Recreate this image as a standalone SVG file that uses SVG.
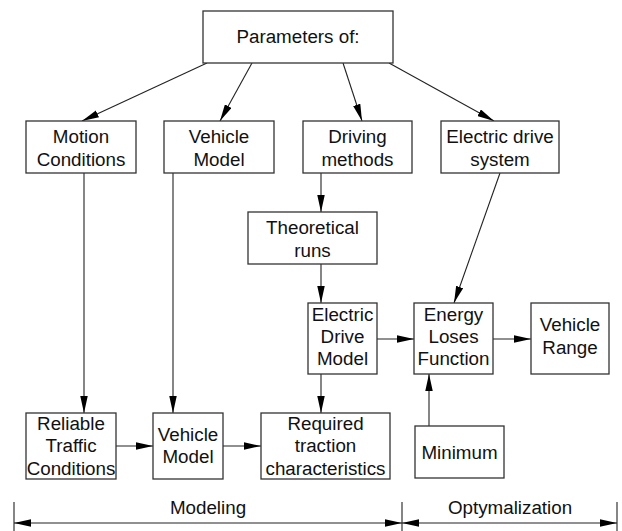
<svg xmlns="http://www.w3.org/2000/svg" width="622" height="531" viewBox="0 0 622 531">
<style>
.box{fill:#fff;stroke:#333;stroke-width:1.3}
.t{font-family:"Liberation Sans",Arial,sans-serif;font-size:18.8px;fill:#111;text-anchor:middle}
.c{fill:none;stroke:#222;stroke-width:1.1}
</style>
<defs>
<marker id="ah" markerUnits="userSpaceOnUse" markerWidth="18" markerHeight="8" refX="17" refY="3.75" orient="auto-start-reverse" viewBox="0 0 18 7.5">
<path d="M0,0 L17,3.75 L0,7.5 z" fill="#000"/>
</marker>
</defs>
<rect width="622" height="531" fill="#fff"/>
<g id="connectors">
<line class="c" x1="207" y1="63" x2="82" y2="121" marker-end="url(#ah)"/>
<line class="c" x1="252" y1="63" x2="220" y2="121" marker-end="url(#ah)"/>
<line class="c" x1="343" y1="63" x2="362" y2="121" marker-end="url(#ah)"/>
<line class="c" x1="389" y1="63" x2="494" y2="121" marker-end="url(#ah)"/>
<line class="c" x1="84" y1="173" x2="84" y2="413" marker-end="url(#ah)"/>
<line class="c" x1="173" y1="173" x2="173" y2="413" marker-end="url(#ah)"/>
<line class="c" x1="321" y1="173" x2="321" y2="212" marker-end="url(#ah)"/>
<line class="c" x1="321" y1="264" x2="321" y2="303" marker-end="url(#ah)"/>
<line class="c" x1="500" y1="173" x2="454" y2="303" marker-end="url(#ah)"/>
<line class="c" x1="377" y1="339" x2="414" y2="339" marker-end="url(#ah)"/>
<line class="c" x1="493" y1="339" x2="531" y2="339" marker-end="url(#ah)"/>
<line class="c" x1="429" y1="426" x2="429" y2="374" marker-end="url(#ah)"/>
<line class="c" x1="321" y1="374" x2="321" y2="413" marker-end="url(#ah)"/>
<line class="c" x1="116" y1="446" x2="153" y2="446" marker-end="url(#ah)"/>
<line class="c" x1="223" y1="446" x2="261" y2="446" marker-end="url(#ah)"/>
<line class="c" x1="14" y1="502" x2="14" y2="531"/>
<line class="c" x1="402" y1="502" x2="402" y2="531"/>
<line class="c" x1="617" y1="502" x2="617" y2="531"/>
<line class="c" x1="14" y1="523" x2="402" y2="523" marker-start="url(#ah)" marker-end="url(#ah)"/>
<line class="c" x1="402" y1="523" x2="617" y2="523" marker-start="url(#ah)" marker-end="url(#ah)"/>
</g>
<g id="params"><rect class="box" x="203" y="11" width="190" height="52"/><text class="t" x="298" y="43">Parameters of:</text></g>
<g id="motion"><rect class="box" x="26" y="121" width="110" height="52"/><text class="t" x="81" y="143">Motion</text><text class="t" x="81" y="166">Conditions</text></g>
<g id="vehicle-top"><rect class="box" x="164" y="121" width="110" height="52"/><text class="t" x="219" y="143">Vehicle</text><text class="t" x="219" y="166">Model</text></g>
<g id="driving"><rect class="box" x="303" y="121" width="109" height="52"/><text class="t" x="357.5" y="143">Driving</text><text class="t" x="357.5" y="166">methods</text></g>
<g id="eds"><rect class="box" x="441" y="121" width="118" height="52"/><text class="t" x="500" y="143">Electric drive</text><text class="t" x="500" y="166">system</text></g>
<g id="theoretical"><rect class="box" x="248" y="212" width="129" height="52"/><text class="t" x="312.5" y="234">Theoretical</text><text class="t" x="312.5" y="257">runs</text></g>
<g id="edm"><rect class="box" x="308" y="303" width="69" height="71"/><text class="t" x="342.5" y="321">Electric</text><text class="t" x="342.5" y="343">Drive</text><text class="t" x="342.5" y="365">Model</text></g>
<g id="energy"><rect class="box" x="414" y="303" width="79" height="71"/><text class="t" x="453.5" y="321">Energy</text><text class="t" x="453.5" y="343">Loses</text><text class="t" x="453.5" y="365">Function</text></g>
<g id="range"><rect class="box" x="531" y="303" width="78" height="71"/><text class="t" x="570" y="331">Vehicle</text><text class="t" x="570" y="354">Range</text></g>
<g id="reliable"><rect class="box" x="26" y="413" width="90" height="66"/><text class="t" x="71" y="430">Reliable</text><text class="t" x="71" y="452">Traffic</text><text class="t" x="71" y="475">Conditions</text></g>
<g id="vehicle-bottom"><rect class="box" x="153" y="413" width="70" height="66"/><text class="t" x="188" y="441">Vehicle</text><text class="t" x="188" y="463">Model</text></g>
<g id="required"><rect class="box" x="261" y="413" width="129" height="66"/><text class="t" x="325.5" y="430">Required</text><text class="t" x="325.5" y="452">traction</text><text class="t" x="325.5" y="475">characteristics</text></g>
<g id="minimum"><rect class="box" x="415" y="426" width="89" height="52"/><text class="t" x="459.5" y="459">Minimum</text></g>
<g id="labels"><text class="t" x="208" y="514">Modeling</text><text class="t" x="510" y="514">Optymalization</text></g>
</svg>
